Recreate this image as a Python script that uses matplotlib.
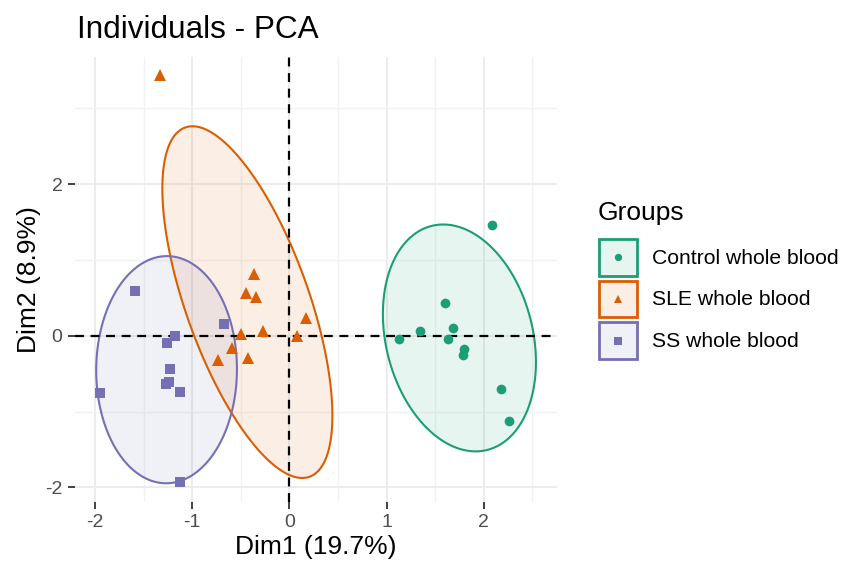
"""
PCA individuals map with normal-theory ellipses per group.
"""
import matplotlib
matplotlib.use("Agg")
import matplotlib.pyplot as plt
import numpy as np
from matplotlib.colors import to_rgba
from matplotlib.lines import Line2D
from matplotlib.patches import Polygon, Rectangle

plt.rcParams["font.family"] = ["Liberation Sans", "DejaVu Sans"]
plt.rcParams["axes.unicode_minus"] = False

GROUPS = ["Control whole blood", "SLE whole blood", "SS whole blood"]
COLORS = ["#1B9E77", "#D95F02", "#7570B3"]
MARKERS = ["o", "^", "s"]
MARKER_SIZES = [7, 8.5, 7]
ELLIPSE_LEVEL = 0.91

control_dim1 = [2.09, 1.60, 1.34, 1.68, 1.13, 1.63, 1.80, 1.79, 2.18, 2.26]
control_dim2 = [1.46, 0.43, 0.06, 0.10, -0.04, -0.04, -0.17, -0.26, -0.70, -1.13]

sle_dim1 = [-1.33, -0.36, -0.45, -0.34, 0.17, -0.27, -0.50, 0.08, -0.59, -0.73, -0.43]
sle_dim2 = [3.44, 0.81, 0.57, 0.51, 0.24, 0.06, 0.02, 0.00, -0.16, -0.32, -0.29]

ss_dim1 = [-1.59, -0.67, -1.18, -1.26, -1.23, -1.27, -1.24, -1.12, -1.95, -1.12]
ss_dim2 = [0.59, 0.15, 0.00, -0.10, -0.44, -0.64, -0.61, -0.74, -0.76, -1.93]

DIM1_LABEL = "Dim1 (19.7%)"
DIM2_LABEL = "Dim2 (8.9%)"


def norm_ellipse(x, y, level=0.95, segments=120):
    pts = np.column_stack([x, y])
    center = pts.mean(axis=0)
    cov = np.cov(pts.T)
    # chi-square(2) quantile has a closed form
    radius = np.sqrt(-2.0 * np.log(1.0 - level))
    chol = np.linalg.cholesky(cov).T
    theta = np.linspace(0, 2 * np.pi, segments)
    unit = np.column_stack([np.cos(theta), np.sin(theta)])
    return center + radius * unit @ chol


class BoxMarkerHandler:
    """Legend key: tinted box with the group's marker in the middle."""

    def legend_artist(self, legend, orig_handle, fontsize, handlebox):
        color, marker, ms = orig_handle
        x0, y0 = -handlebox.xdescent, -handlebox.ydescent
        w, h = handlebox.width, handlebox.height
        rect = Rectangle((x0 + 1, y0 + 1), w - 2, h - 2, facecolor=to_rgba(color, 0.1),
                         edgecolor=color, linewidth=2, transform=handlebox.get_transform())
        dot = Line2D([x0 + w / 2], [y0 + h / 2], linestyle="none", marker=marker,
                     markersize=ms, color=color, markeredgewidth=0,
                     transform=handlebox.get_transform())
        handlebox.add_artist(rect)
        handlebox.add_artist(dot)
        return rect


def main() -> None:
    fig = plt.figure(figsize=(8.41, 5.65), dpi=100)
    ax = fig.add_axes([0.0892, 0.112, 0.5731, 0.787])

    data = [(control_dim1, control_dim2), (sle_dim1, sle_dim2), (ss_dim1, ss_dim2)]

    ax.set_xlim(-2.205, 2.754)
    ax.set_ylim(-2.19, 3.677)
    ax.set_xticks([-2, -1, 0, 1, 2])
    ax.set_yticks([-2, 0, 2])
    ax.set_xticks([-1.5, -0.5, 0.5, 1.5, 2.5], minor=True)
    ax.set_yticks([-1, 1, 3], minor=True)
    ax.grid(which="major", color="#EBEBEB", linewidth=1.3, zorder=0)
    ax.grid(which="minor", color="#F2F2F2", linewidth=1.0, zorder=0)
    ax.set_axisbelow(True)
    for spine in ax.spines.values():
        spine.set_visible(False)
    ax.tick_params(which="major", length=5, width=1.3, color="#333333",
                   labelsize=14, labelcolor="#4D4D4D", pad=4)
    ax.tick_params(which="minor", length=0)

    for (x, y), color in zip(data, COLORS):
        ell = norm_ellipse(x, y, ELLIPSE_LEVEL)
        ax.add_patch(Polygon(ell, closed=True, facecolor=color, alpha=0.1,
                             edgecolor="none", zorder=1))
        ax.add_patch(Polygon(ell, closed=True, facecolor="none", edgecolor=color,
                             linewidth=1.5, zorder=2))

    ax.axhline(0, color="black", linestyle=(0, (4, 3)), linewidth=1.6, zorder=3)
    ax.axvline(0, color="black", linestyle=(0, (4, 3)), linewidth=1.6, zorder=3)

    for (x, y), color, marker, ms in zip(data, COLORS, MARKERS, MARKER_SIZES):
        ax.plot(x, y, linestyle="none", marker=marker, markersize=ms,
                color=color, markeredgewidth=0, zorder=4)

    ax.set_xlabel(DIM1_LABEL, fontsize=19, labelpad=3)
    ax.set_ylabel(DIM2_LABEL, fontsize=19, labelpad=3)
    fig.text(0.0915, 0.932, "Individuals - PCA", fontsize=22.7, ha="left", va="baseline")

    # legend title placed on its own to get the ggplot-style gap above the keys
    fig.text(0.711, 0.6106, "Groups", fontsize=19, ha="left", va="baseline")
    handles = [(c, m, ms * 0.75) for c, m, ms in zip(COLORS, MARKERS, MARKER_SIZES)]
    fig.legend(handles, GROUPS, handler_map={tuple: BoxMarkerHandler()},
               loc="upper left", bbox_to_anchor=(0.711, 0.5788),
               frameon=False, fontsize=15.2,
               handlelength=1.9, handleheight=2.466, handletextpad=0.66,
               labelspacing=0.12, borderaxespad=0, borderpad=0)

    fig.savefig("out.png", dpi=100)
    plt.close(fig)


if __name__ == "__main__":
    main()
